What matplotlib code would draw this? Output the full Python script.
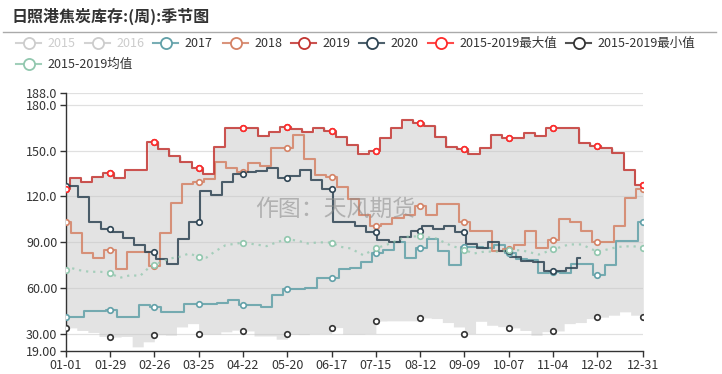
import numpy as np
import matplotlib
matplotlib.use('Agg')
import matplotlib.pyplot as plt

plt.rcParams['font.family'] = ['Noto Sans CJK SC', 'DejaVu Sans']

# x轴：以闰年日序(0=01-01)表示
tick_days = [0, 28, 56, 84, 112, 140, 168, 196, 224, 252, 280, 308, 336, 365]
tick_labels = ['01-01', '01-29', '02-26', '03-25', '04-22', '05-20', '06-17',
               '07-15', '08-12', '09-09', '10-07', '11-04', '12-02', '12-31']
y_ticks = [19, 30, 60, 90, 120, 150, 180, 188]
y_labels = ['19.00', '30.00', '60.00', '90.00', '120.0', '150.0', '180.0', '188.0']

# 周度数据：首日值 + 每周值（起始偏移天数）
y2017_first, y2017_off = 40.8, 4.5
y2017 = [40.8, 44.9, 44.9, 46, 40.8, 40.8, 48.8, 47.7, 44.5, 44.5, 49.5, 49.9,
         49.9, 50.6, 52.1, 48.8, 48.8, 47.7, 55.8, 59.3, 59.3, 60.2, 66.7, 66.7, 72.4, 73.3,
         77.2, 83.1, 85, 90.3, 79.8, 86, 92, 84, 75, 87, 87, 86,
         88.5, 82.7, 79.4, 78.3, 69.6, 70.7, 69.6, 75.5, 75.5, 68.5, 75, 90.9, 90.9, 103.4]

y2018_first, y2018_off = 103, 3.5
y2018 = [95.8, 82.7, 79.8, 85.1, 72.8, 83.8, 83.8, 74.6, 95.8, 116, 128.1, 129.6, 131.3,
         142.7, 138.4, 136.2, 141.6, 139.9, 151.5, 151.5, 160.2, 144.5, 134, 132.9, 125.9, 118.1,
         107.8, 100.6, 102.3, 105.6, 107.8, 113.7, 107.8, 115, 115, 103.4, 97.5, 97.5, 84.6,
         85.9, 88.1, 97.5, 86.4, 91.4, 105.1, 103, 97.5, 90.3, 90.3, 100.8, 118.7, 124.6]

y2019_first, y2019_off = 124.8, 2.5
y2019 = [131.8, 129.6, 132.9, 135.1, 131.8, 137, 137, 155.8, 151, 146.2, 142.7, 138.3, 134.6,
         152.1, 165, 165, 165, 159.7, 161.9, 165.6, 163.9, 162.3, 165, 163, 159, 153.6,
         147.5, 149.9, 158.4, 165, 170.2, 167.8, 166.3, 159.1, 152.5, 150.8, 147.9, 151.4, 160.2,
         158, 158, 161.2, 159.5, 164.5, 164.5, 164.5, 155.1, 153, 151.4, 148.2, 137.2, 127.4]

y2020_first, y2020_off, y2020_end = 127, 1, 325
y2020 = [127, 119.8, 103.4, 98.6, 96.8, 92.9, 88.1, 83.8, 79.4, 75.7, 92, 103.4, 123.5,
         120.9, 129.6, 134.4, 135.7, 136.5, 138.3, 132.2, 133.5, 137, 130.7, 125.2, 103,
         103, 100.8, 96.8, 91.4, 90.3, 93.6, 97.5, 100.8, 98.4, 100.8, 96.8, 88.6, 86, 90.3,
         84.4, 80.5, 78, 77, 71.5, 71.3, 73.3, 79.8]

min_first, min_off = 34, 6.5
y_min = [32.3, 31, 28.4, 28, 28.4, 21.6, 24.9, 29.5, 29.2, 34.6, 36.8, 30, 30,
         31.4, 32.5, 32, 28.7, 28.7, 26.6, 29.8, 29.6, 30.3, 30.3, 34.2, 30, 30,
         30.3, 38.5, 38.6, 38.6, 38.6, 40.5, 40.1, 37.5, 34.6, 30.3, 38.3, 35.7,
         34.8, 34, 32.3, 29.2, 31.5, 32, 36.8, 37.5, 40.1, 41, 42.3, 44.5, 42.3, 41]

mean_days = [0, 3, 9, 15, 22, 28, 34, 41, 47, 53, 56, 60, 66, 72, 78, 84, 89, 94, 101, 112,
             120, 127, 134, 140, 147, 153, 160, 168, 174, 180, 188, 196, 205, 215, 224, 234,
             243, 252, 258, 265, 271, 280, 288, 299, 308, 318, 326, 336, 343, 349, 358, 365]
mean_vals = [71.7, 73.3, 71.7, 70.7, 70.7, 70, 66.7, 68.5, 68, 73.9, 75, 77, 79.4, 80.5, 82.7,
             80.5, 80, 83.8, 88.1, 89.8, 88.6, 87.5, 90.3, 92, 91, 89.2, 90, 89.8, 87, 86,
             81.6, 86, 89.2, 93.6, 94, 92.5, 88.1, 84.9, 82.7, 84, 83.8, 84.8, 84.8, 82,
             85.3, 88.6, 88.6, 83.8, 85.5, 87, 87.5, 86.5]


def step_xy(first, off, vals, end=365):
    xs = [0] + [off + 7 * k for k in range(len(vals))]
    ys = [first] + list(vals)
    return np.array(xs + [end]), np.array(ys + [ys[-1]])


def at(xs, ys, d):
    i = np.searchsorted(xs, d, side='right') - 1
    return ys[min(i, len(ys) - 1)]


s17 = step_xy(y2017_first, y2017_off, y2017)
s18 = step_xy(y2018_first, y2018_off, y2018)
s19 = step_xy(y2019_first, y2019_off, y2019)
s20 = step_xy(y2020_first, y2020_off, y2020, y2020_end)
smin = step_xy(min_first, min_off, y_min)

days = np.arange(0, 366)
d_max = np.array([max(at(*s17, d), at(*s18, d), at(*s19, d)) for d in days])
d_min = np.array([at(*smin, d) for d in days])

fig = plt.figure(figsize=(7.22, 3.74), dpi=100)
ax = fig.add_axes([0.0910, 0.0620, 0.8000, 0.6906])

for v in y_ticks[1:]:
    ax.axhline(v, color='#e0e0e0', lw=0.9, zorder=0.5)
ax.fill_between(days, d_min, d_max, step='post', color='#c8c8c8', alpha=0.5, lw=0, zorder=1)

series = [(s17, '#61a0a8'), (s18, '#d48265'), (s19, '#c23531'), (s20, '#2f4554')]
for (xs, ys), c in series:
    ax.plot(xs, ys, drawstyle='steps-post', color=c, lw=1.5, alpha=0.85, zorder=3)
    md = [d for d in tick_days if d <= xs[-1]]
    ax.plot(md, [at(xs, ys, d) for d in md], 'o', ms=4, mfc='white', mec=c, mew=1.2, zorder=4)

ax.plot(mean_days, mean_vals, ls=(0, (1, 2.2)), color='#91c7ae', lw=1.6, alpha=0.75, zorder=3)
mk = [i for i, d in enumerate(mean_days) if d in tick_days]
ax.plot([mean_days[i] for i in mk], [mean_vals[i] for i in mk], 'o', ms=4, mfc='white',
        mec='#91c7ae', mew=1.2, zorder=4)

ax.plot(tick_days, [d_max[d] for d in tick_days], 'o', ms=4, mfc='white', mec='#ff2a2a', mew=1.2, zorder=5)
ax.plot(tick_days, [d_min[d] for d in tick_days], 'o', ms=4, mfc='white', mec='#333333', mew=1.2, zorder=5)

ax.set_xlim(0, 365)
ax.set_ylim(19, 188)
ax.set_xticks(tick_days)
ax.set_xticklabels(tick_labels)
ax.set_yticks(y_ticks)
ax.set_yticklabels(y_labels)
ax.tick_params(colors='#333333', labelsize=9, length=4, width=1, pad=2)
for s in ['top', 'right']:
    ax.spines[s].set_visible(False)
for s in ['left', 'bottom']:
    ax.spines[s].set_color('#333333')
    ax.spines[s].set_linewidth(1)

# 标题、图例、水印（像素坐标）
ov = fig.add_axes([0, 0, 1, 1], facecolor='none')
ov.set_xlim(0, 722)
ov.set_ylim(374, 0)
ov.axis('off')
ov.text(12, 16, '日照港焦炭库存:(周):季节图', fontsize=11.5, fontweight='bold', color='#333333', va='center')
ov.plot([3, 716], [32, 32], color='#aaaaaa', lw=1)

legend_items = [('2015', '#cccccc', 16, 43, True), ('2016', '#cccccc', 85, 43, True),
                ('2017', '#61a0a8', 153, 43, False), ('2018', '#d48265', 223, 43, False),
                ('2019', '#c23531', 291, 43, False), ('2020', '#2f4554', 359, 43, False),
                ('2015-2019最大值', '#ff2a2a', 428, 43, False),
                ('2015-2019最小值', '#333333', 566, 43, False),
                ('2015-2019均值', '#91c7ae', 16, 64, False)]
for name, c, x0, y0, off in legend_items:
    ov.plot([x0, x0 + 25], [y0, y0], color=c, lw=1.5, alpha=0.85)
    ov.plot([x0 + 12.5], [y0], 'o', ms=8, mfc='white', mec=c, mew=1.3)
    ov.text(x0 + 31, y0, name, fontsize=9, color='#cccccc' if off else '#333333', va='center')

ov.text(255, 209, '作图：天风期货', fontsize=16.5, color='#888888', alpha=0.55, va='center')

fig.savefig('out.png', dpi=100)
